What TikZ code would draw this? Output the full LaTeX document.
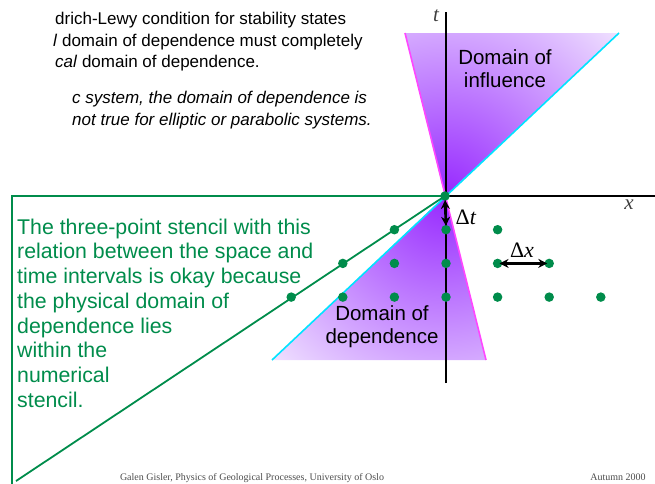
\documentclass[tikz,border=0pt]{standalone}
\usepackage{fontspec}
\setmainfont{Liberation Serif}
\setsansfont{Liberation Sans}
\usetikzlibrary{arrows.meta}

\definecolor{stencilgreen}{RGB}{0,140,75}
\definecolor{domdark}{RGB}{150,40,255}
\definecolor{domlight}{RGB}{244,234,255}
\definecolor{charcyan}{RGB}{0,228,255}
\definecolor{charmag}{RGB}{255,70,255}

\tikzset{
  gridpt/.style={circle,fill=stencilgreen,inner sep=0pt,minimum size=9.5pt},
  stepline/.style={{Stealth[length=9pt,width=9pt]}-{Stealth[length=9pt,width=9pt]},line width=2.6pt},
  toptext/.style={anchor=base west,inner sep=0pt,font=\sffamily\fontsize{17}{20}\selectfont},
  greentext/.style={anchor=base west,inner sep=0pt,text=stencilgreen,font=\sffamily\fontsize{21.3}{24}\selectfont},
  domtext/.style={inner sep=0pt,align=center,font=\sffamily\fontsize{20.5}{23}\selectfont}
}

\begin{document}
\begin{tikzpicture}[x=1pt,y=-1pt]
\useasboundingbox (0,0) rectangle (655,483);

\coordinate (O) at (445,196);
\coordinate (inflL) at (405,33);
\coordinate (inflR) at (619,33);
\coordinate (depL) at (272,360);
\coordinate (depR) at (486,360);

% shaded domains
\begin{scope}
\clip (O) -- (inflL) -- (inflR) -- cycle;
\shade[inner color=domdark,outer color=domlight] (O) circle (250);
\end{scope}
\begin{scope}
\clip (O) -- (depL) -- (depR) -- cycle;
\shade[inner color=domdark,outer color=domlight] (O) circle (250);
\end{scope}

% axes
\coordinate (ttop) at (446,12);
\coordinate (tbot) at (446,383);
\coordinate (xend) at (655,196);
\draw[line width=1.4pt] (tbot) -- (ttop);
\draw[line width=1.4pt] (O) -- (xend);
\node[font=\itshape\fontsize{21}{21}\selectfont,text=black!75] (tlab) at (436,16) {t};
\node[font=\itshape\fontsize{21}{21}\selectfont,text=black!75] (xlab) at (629,205) {x};

% characteristics
\draw[charcyan,line width=1.6pt] (depL) -- (inflR);
\draw[charmag,line width=1.6pt] (inflL) -- (depR);

% stencil callout
\coordinate (boxtop) at (12,196);
\coordinate (boxbot) at (12,485);
\coordinate (stemend) at (16,481);
\draw[stencilgreen,line width=1.8pt] (boxbot) -- (boxtop) -- (O) -- (stemend);

% grid points
\node[gridpt] (o) at (O) {};
\foreach \r in {1,2,3}{
  \foreach \c in {-\r,...,\r}{
    \pgfmathtruncatemacro{\k}{\c+3}
    \node[gridpt] (p\r\k) at (446+51.6*\c,196+33.7*\r) {};
  }
}

% step sizes
\draw[stepline,shorten <=-1pt,shorten >=-1pt] (o) -- (p13);
\node[font=\fontsize{22}{22}\selectfont] (dt) at (466,217) {Δ\textit{t}};
\draw[stepline,shorten <=-3pt,shorten >=-3pt] (p24) -- (p25);
\node[font=\fontsize{22}{22}\selectfont] (dx) at (522,250) {Δ\textit{x}};

% domain labels
\node[domtext] (influence) at (505,69) {Domain of\\influence};
\node[domtext] (dependence) at (382,327) {Domain of\\dependence};

% heading text
\node[toptext] (h1) at (55,24) {drich-Lewy condition for stability states};
\node[toptext] (h2) at (53,46) {\textit{l} domain of dependence must completely};
\node[toptext] (h3) at (55,67) {\textit{cal} domain of dependence.};
\node[toptext,font=\sffamily\itshape\fontsize{17}{20}\selectfont] (h4) at (72,103) {c system, the domain of dependence is};
\node[toptext,font=\sffamily\itshape\fontsize{17}{20}\selectfont] (h5) at (72,125) {not true for elliptic or parabolic systems.};

% callout text
\foreach \txt [count=\i] in {The three-point stencil with this,relation between the space and,time intervals is okay because,the physical domain of,dependence lies,within the,numerical,stencil.}
  \node[greentext] (g\i) at (17,209.5+24.7*\i) {\txt};

% footer
\node[anchor=base,inner sep=0pt,text=black!70,font=\fontsize{10}{10}\selectfont] (foot) at (252,480.5) {Galen Gisler, Physics of Geological Processes, University of Oslo};
\node[anchor=base,inner sep=0pt,text=black!70,font=\fontsize{10}{10}\selectfont] (term) at (618,480.5) {Autumn 2000};
\end{tikzpicture}
\end{document}
